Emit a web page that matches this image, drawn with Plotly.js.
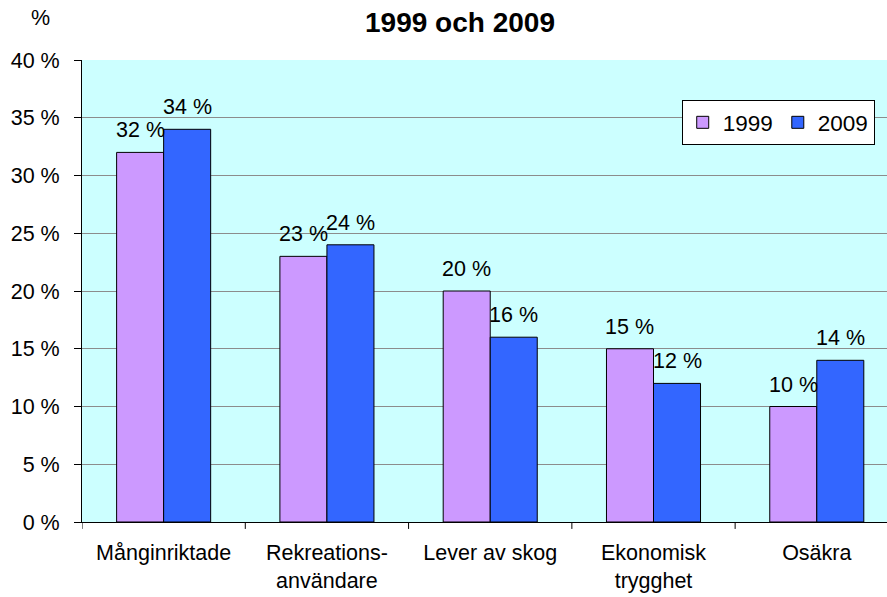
<!DOCTYPE html>
<html>
<head>
<meta charset="utf-8">
<script src="https://cdn.plot.ly/plotly-3.0.1.min.js"></script>
<style>html,body{margin:0;padding:0;background:#fff;}</style>
</head>
<body>
<div id="chart" style="width:887px;height:597px;"></div>
<script>
const categories = ["Månginriktade", "Rekreations-<br>användare", "Lever av skog", "Ekonomisk<br>trygghet", "Osäkra"];
const values1999 = [32, 23, 20, 15, 10];
const values2009 = [34, 24, 16, 12, 14];
const seriesNames = ["1999", "2009"];
const yTickVals = [0, 5, 10, 15, 20, 25, 30, 35, 40];
const yTickText = yTickVals.map(v => v + " %");

const FAM = "Liberation Sans, Arial, sans-serif";
const font = {family: FAM, color: "#000", size: 21.5};
const idx = categories.map((c, i) => i);

const traces = [
  {type: "bar", name: seriesNames[0], x: idx, y: values1999,
   marker: {color: "#CC99FF", line: {color: "#000", width: 1}}},
  {type: "bar", name: seriesNames[1], x: idx, y: values2009,
   marker: {color: "#3366FF", line: {color: "#000", width: 1}}}
];

const annotations = [];
const off = 0.144;
values1999.forEach((v, i) => annotations.push({x: i - off, y: v, xref: "x", yref: "y", text: v + " %",
  showarrow: false, yanchor: "bottom", yshift: 8, font: font}));
values2009.forEach((v, i) => annotations.push({x: i + off, y: v, xref: "x", yref: "y", text: v + " %",
  showarrow: false, yanchor: "bottom", yshift: 8, font: font}));
annotations.push({x: -0.052, y: 1.091, xref: "paper", yref: "paper", text: "%", showarrow: false,
  xanchor: "center", yanchor: "middle", font: font});

const layout = {
  width: 887, height: 597,
  margin: {l: 82, r: 0, t: 60, b: 75},
  paper_bgcolor: "#ffffff",
  plot_bgcolor: "#CCFFFF",
  font: font,
  title: {text: "<b>1999 och 2009</b>", x: 0.5186, xref: "container", xanchor: "center",
    y: 0.963, yref: "container", yanchor: "middle", font: {family: FAM, size: 28, color: "#000"}},
  barmode: "group",
  bargap: 0.424,
  bargroupgap: 0,
  showlegend: true,
  legend: {orientation: "h", x: 0.745, y: 0.913, xanchor: "left", yanchor: "top",
    bgcolor: "#ffffff", bordercolor: "#000", borderwidth: 1, font: {family: FAM, size: 22.5, color: "#000"},
    itemwidth: 30, traceorder: "normal", tracegroupgap: 0},
  xaxis: {type: "linear", range: [-0.5, 4.43], tickvals: idx, ticktext: categories,
    showgrid: false, zeroline: false, showline: true, linecolor: "#000", linewidth: 1,
    ticks: "", tickfont: font, fixedrange: true, ticklabelstandoff: 11},
  yaxis: {range: [0, 40], tickvals: yTickVals, ticktext: yTickText, showgrid: true, gridcolor: "#8c8c8c",
    gridwidth: 1, zeroline: false, showline: true, linecolor: "#000", linewidth: 1,
    ticks: "outside", ticklen: 7, tickcolor: "#000", tickfont: font, ticklabelstandoff: 10},
  shapes: [0, 1, 2, 3, 4, 5].map(i => ({type: "line", xref: "x", yref: "paper", x0: i - 0.5, x1: i - 0.5,
    y0: 0, y1: -0.015, line: {color: "#000", width: 1}})),
  annotations: annotations
};

Plotly.newPlot("chart", traces, layout, {displayModeBar: false, staticPlot: true});
</script>
</body>
</html>
